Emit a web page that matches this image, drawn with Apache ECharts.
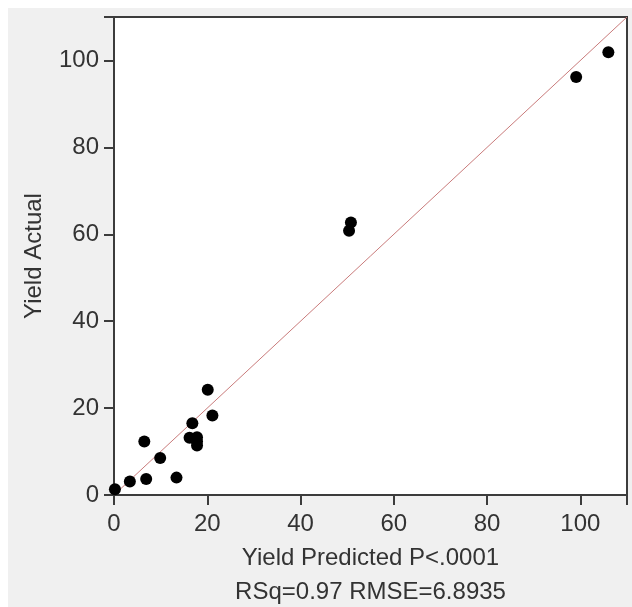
<!DOCTYPE html>
<html>
<head>
<meta charset="utf-8">
<script src="https://cdn.jsdelivr.net/npm/echarts@6/dist/echarts.min.js"></script>
<style>
html,body{margin:0;padding:0;background:#fff;}
#bg{position:absolute;left:8px;top:8px;width:624px;height:599px;background:#f0f0f0;}
#chart{position:absolute;left:0;top:0;width:632px;height:607px;}
</style>
</head>
<body>
<div id="bg"></div>
<div id="chart"></div>
<script>
const predicted = [0.2, 3.4, 6.9, 6.5, 9.9, 13.4, 16.2, 16.8, 17.8, 17.8, 17.8, 20.1, 21.1, 50.4, 50.8, 99.1, 106.0];
const actual    = [1.3, 3.1, 3.7, 12.3, 8.5, 4.0, 13.2, 16.5, 13.3, 12.3, 11.4, 24.2, 18.3, 60.8, 62.7, 96.2, 101.9];
const xTicks = [0, 20, 40, 60, 80, 100];
const yTicks = [0, 20, 40, 60, 80, 100];
const axisMax = 110;
const fitLine = [[0, 0], [110, 110]];
const xTitle = 'Yield Predicted P<.0001';
const xSubTitle = 'RSq=0.97 RMSE=6.8935';
const yTitle = 'Yield Actual';

const points = predicted.map((p, i) => [p, actual[i]]);
const font = 'Liberation Sans, Arial, sans-serif';

const chart = echarts.init(document.getElementById('chart'));
chart.setOption({
  animation: false,
  backgroundColor: 'transparent',
  grid: {
    left: 114, top: 17, right: 5, bottom: 112,
    outerBoundsMode: 'none', containLabel: false,
    show: true, backgroundColor: '#ffffff', borderColor: '#3c3c3c', borderWidth: 2
  },
  xAxis: {
    type: 'value', min: 0, max: axisMax, interval: 20,
    axisLine: { show: false },
    axisTick: { show: true, length: 10, lineStyle: { color: '#3c3c3c', width: 2 } },
    splitLine: { show: false },
    axisLabel: {
      margin: 17, fontSize: 24, color: '#333', fontFamily: font,
      formatter: v => xTicks.includes(v) ? String(v) : ''
    },
    name: xTitle + '\n' + xSubTitle,
    nameLocation: 'middle', nameGap: 44,
    nameTextStyle: { fontSize: 24, color: '#333', fontFamily: font, lineHeight: 34, verticalAlign: 'top' }
  },
  yAxis: {
    type: 'value', min: 0, max: axisMax, interval: 20,
    axisLine: { show: false },
    axisTick: { show: true, length: 10, lineStyle: { color: '#3c3c3c', width: 2 } },
    splitLine: { show: false },
    axisLabel: {
      margin: 15, fontSize: 24, color: '#333', fontFamily: font,
      formatter: v => yTicks.includes(v) ? String(v) : ''
    },
    name: yTitle, nameLocation: 'middle', nameGap: 68,
    nameTextStyle: { fontSize: 24, color: '#333', fontFamily: font }
  },
  series: [
    {
      type: 'line', data: fitLine, symbol: 'none', silent: true,
      lineStyle: { color: '#c97b7b', width: 1 }, z: 2
    },
    {
      type: 'scatter', data: points, symbolSize: 12, clip: false,
      itemStyle: { color: '#000000', opacity: 1 }, z: 3
    }
  ]
});
</script>
</body>
</html>
